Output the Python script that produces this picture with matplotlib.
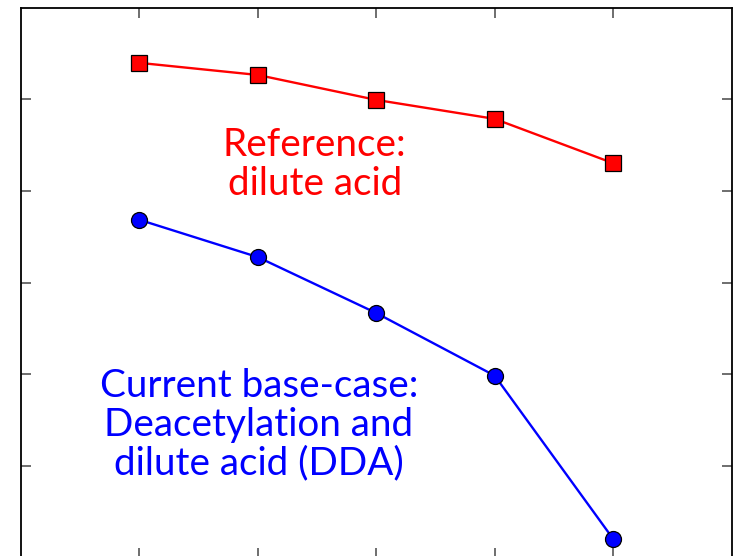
import matplotlib
matplotlib.use("Agg")
import matplotlib.pyplot as plt

x_pos = [1, 2, 3, 4, 5]
reference_da = [93.96, 92.64, 89.92, 87.85, 83.02]
dda_base = [76.84, 72.77, 66.67, 59.84, 42.04]
y_ticks = [50, 60, 70, 80, 90]

fig = plt.figure(figsize=(7.33, 5.56), dpi=100)
ax = fig.add_axes([21 / 733, -1.5 / 556, 710.5 / 733, 550 / 556])

ax.plot(x_pos, reference_da, color="#ff0000", lw=1.7, marker="s", ms=11,
        mfc="#ff0000", mec="black", mew=0.9, zorder=3)
ax.plot(x_pos, dda_base, color="#0000ff", lw=1.7, marker="o", ms=11.5,
        mfc="#0000ff", mec="black", mew=0.9, zorder=3)

ax.set_xlim(0, 6)
ax.set_ylim(40, 100)
ax.set_xticks(x_pos)
ax.set_yticks(y_ticks)
ax.tick_params(direction="in", length=7, width=1.2, color="#555555",
               top=True, right=True, labelleft=False, labelbottom=False)
for s in ax.spines.values():
    s.set_linewidth(1.3)
    s.set_color("black")

font = ["Lato", "DejaVu Sans"]
ax.text(2.48, 82.9, "Reference:\ndilute acid", color="#ff0000", fontsize=27.8,
        ha="center", va="center", family=font, linespacing=1.1)
ax.text(2.01, 54.5, "Current base-case:\nDeacetylation and\ndilute acid (DDA)",
        color="#0000ff", fontsize=27.8, ha="center", va="center", family=font,
        linespacing=1.08)

fig.savefig("out.png", dpi=100)
